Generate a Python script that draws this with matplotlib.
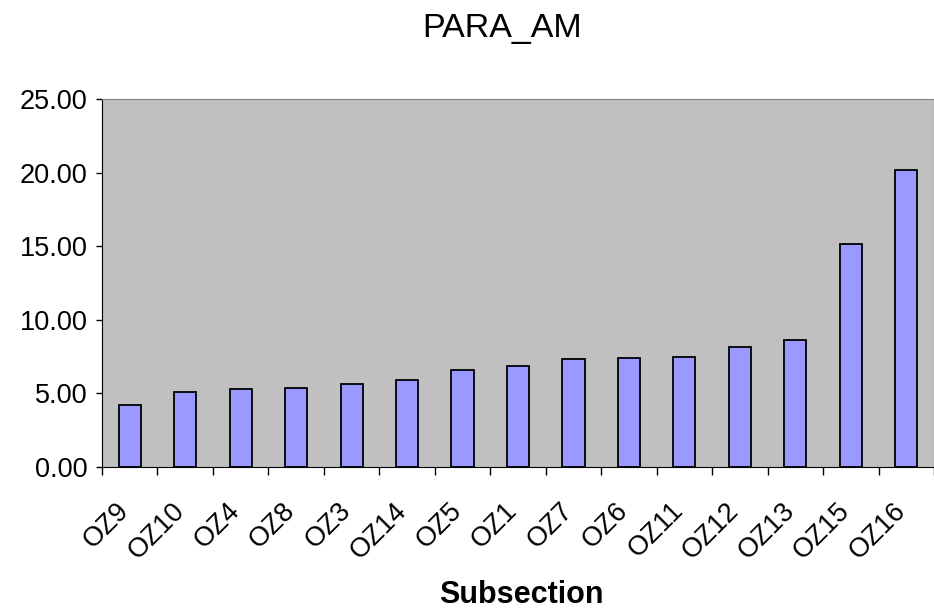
import numpy as np
import matplotlib
matplotlib.use("Agg")
import matplotlib.pyplot as plt
import matplotlib.transforms as mtrans
from matplotlib.ticker import FixedLocator, FormatStrFormatter

plt.rcParams['font.family'] = ['Liberation Sans', 'DejaVu Sans']

subsections = ["OZ9", "OZ10", "OZ4", "OZ8", "OZ3", "OZ14", "OZ5", "OZ1",
               "OZ7", "OZ6", "OZ11", "OZ12", "OZ13", "OZ15", "OZ16"]
para_am = [4.18, 5.08, 5.29, 5.38, 5.67, 5.90, 6.56, 6.87,
           7.35, 7.41, 7.44, 8.16, 8.60, 15.17, 20.20]

fig = plt.figure(figsize=(9.34, 6.12), dpi=100)
ax = fig.add_axes([0.1092, 0.237, 0.8908, 0.601])
ax.set_facecolor('#C0C0C0')

x = np.arange(len(subsections))
ax.bar(x, para_am, width=0.4, color='#9999FF', edgecolor='black', linewidth=1.3)

ax.set_xlim(-0.5, len(subsections) - 0.5)
ax.set_ylim(0, 25)
ax.set_yticks(np.arange(0, 26, 5))
ax.yaxis.set_major_formatter(FormatStrFormatter('%.2f'))
ax.tick_params(axis='y', labelsize=19.5, length=4.5, width=1, direction='out', pad=6)

ax.set_xticks(x)
ax.set_xticklabels(subsections, rotation=45, ha='right', va='top',
                   rotation_mode='anchor', fontsize=19.5)
ax.xaxis.set_minor_locator(FixedLocator(np.arange(-0.5, len(subsections), 1)))
ax.tick_params(axis='x', which='major', length=0, pad=22)
ax.tick_params(axis='x', which='minor', length=6, width=1, direction='out')
shift = mtrans.ScaledTranslation(-10 / 72, 0, fig.dpi_scale_trans)
for lbl in ax.get_xticklabels():
    lbl.set_transform(lbl.get_transform() + shift)

for side in ['top', 'right']:
    ax.spines[side].set_color('#808080')
for side in ['left', 'bottom']:
    ax.spines[side].set_color('black')

ax.set_xlabel("Subsection", fontsize=22, fontweight='bold', va='baseline')
ax.xaxis.set_label_coords(0.558, 0.014, transform=fig.transFigure)
fig.text(0.5375, 0.9395, "PARA_AM", ha='center', va='baseline', fontsize=24.5)

fig.savefig("out.png", dpi=100)
